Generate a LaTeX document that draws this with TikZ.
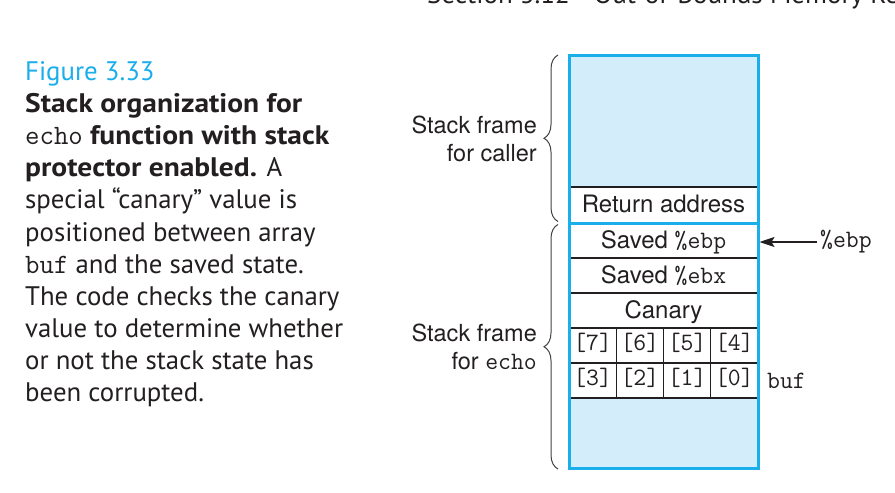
\documentclass[tikz,border=0pt]{standalone}
\usepackage{fontspec}
\setmainfont{PT Sans}[BoldFeatures={FakeStretch=1.1}]
\setsansfont{TeX Gyre Heros}
\usetikzlibrary{decorations.pathreplacing,arrows.meta}
\definecolor{cy}{HTML}{1AAEEB}
\definecolor{lb}{HTML}{D3EEFA}
\definecolor{ink}{HTML}{231F20}
\newcommand{\mt}[1]{{\ttfamily\fontsize{25}{28}\selectfont #1}}
\newcommand{\ct}[1]{{\ttfamily\fontsize{28}{30}\selectfont #1}}
\begin{document}
\begin{tikzpicture}[x=1pt,y=-1pt,
  cell/.style={draw=ink,line width=1.2pt,fill=white,inner sep=0pt,outer sep=0pt,
     minimum width=189pt,minimum height=35pt,text height=20.4pt,text depth=5pt,
     font=\sffamily\fontsize{24}{28}\selectfont,text=ink},
  bcell/.style={cell,minimum width=47.25pt,text height=16pt,text depth=5.6pt},
  captxt/.style={anchor=base west,inner sep=0pt,text=ink,font=\fontsize{26.8}{30}\selectfont},
  side/.style={anchor=east,align=right,inner sep=0pt,text=ink,font=\sffamily\fontsize{23.5}{28.5}\selectfont},
  brc/.style={decorate,decoration={brace,amplitude=14pt},draw=ink!85,line width=1pt},
  mono/.style={inner sep=0pt,text=ink,font=\ttfamily\fontsize{25}{28}\selectfont}]
\useasboundingbox (0,0) rectangle (895,493);
\clip (0,0) rectangle (895,493);
\fill[white] (0,0) rectangle (895,493);
% header (cut off)
\node[captxt,font=\fontsize{27}{30}\selectfont] (hdr) at (427,3.5) {Section 3.12\hspace{24pt}Out-of-Bounds Memory References};
% caption
\node[captxt,text=cy] (c0) at (25,80.5) {Figure 3.33};
\node[captxt] (c1) at (25,112.6) {\bfseries Stack organization for};
\node[captxt] (c2) at (25,144.7) {\ct{echo} \bfseries function with stack};
\node[captxt] (c3) at (25,176.8) {\bfseries protector enabled.\mdseries{} A};
\node[captxt] (c4) at (25,208.9) {special “canary” value is};
\node[captxt] (c5) at (25,241.0) {positioned between array};
\node[captxt] (c6) at (25,273.1) {\ct{buf} and the saved state.};
\node[captxt] (c7) at (25,305.2) {The code checks the canary};
\node[captxt] (c8) at (25,337.3) {value to determine whether};
\node[captxt] (c9) at (25,369.4) {or not the stack state has};
\node[captxt] (c10) at (25,401.5) {been corrupted.};
% stack column
\node[cell,fill=lb,minimum height=132pt] (caller) at (663.5,121) {};
\node[cell,minimum height=36pt] (ret) at (663.5,205) {Return address};
\node[cell] (ebp) at (663.5,240.5) {Saved \mt{\%ebp}};
\node[cell] (ebx) at (663.5,275.5) {Saved \mt{\%ebx}};
\node[cell] (can) at (663.5,310.5) {Canary};
\foreach \l [count=\k from 0] in {7,6,5,4}
  \node[bcell,font=\ttfamily\fontsize{25}{28}\selectfont] (b\l) at (592.625+47.25*\k,345.5) {[\l]};
\foreach \l [count=\k from 0] in {3,2,1,0}
  \node[bcell,font=\ttfamily\fontsize{25}{28}\selectfont] (b\l) at (592.625+47.25*\k,380.5) {[\l]};
\node[cell,fill=lb,minimum height=70.5pt] (below) at (663.5,433.25) {};
% blue frame
\draw[cy,line width=3pt] (caller.north west) rectangle (below.south east);
\draw[cy,line width=3pt] (ebp.north west) -- (ebp.north east);
% braces
\draw[brc] (558,469) -- (558,224.5);
\draw[brc] (558,221.5) -- (558,55);
\node[side] (lcaller) at (537,139) {Stack frame\\for caller};
\node[side] (lecho) at (537,347) {Stack frame\\for \mt{echo}};
% labels
\node[mono,anchor=west] (reg) at (820,242) {\%ebp};
\draw[ink,line width=1.3pt,-{Stealth[length=15pt,width=10pt,inset=3pt]}] ([xshift=-3pt]reg.west) -- ([xshift=1.5pt]ebp.east |- reg.west);
\node[mono,anchor=west] (buf) at (767,381) {buf};
\end{tikzpicture}
\end{document}
